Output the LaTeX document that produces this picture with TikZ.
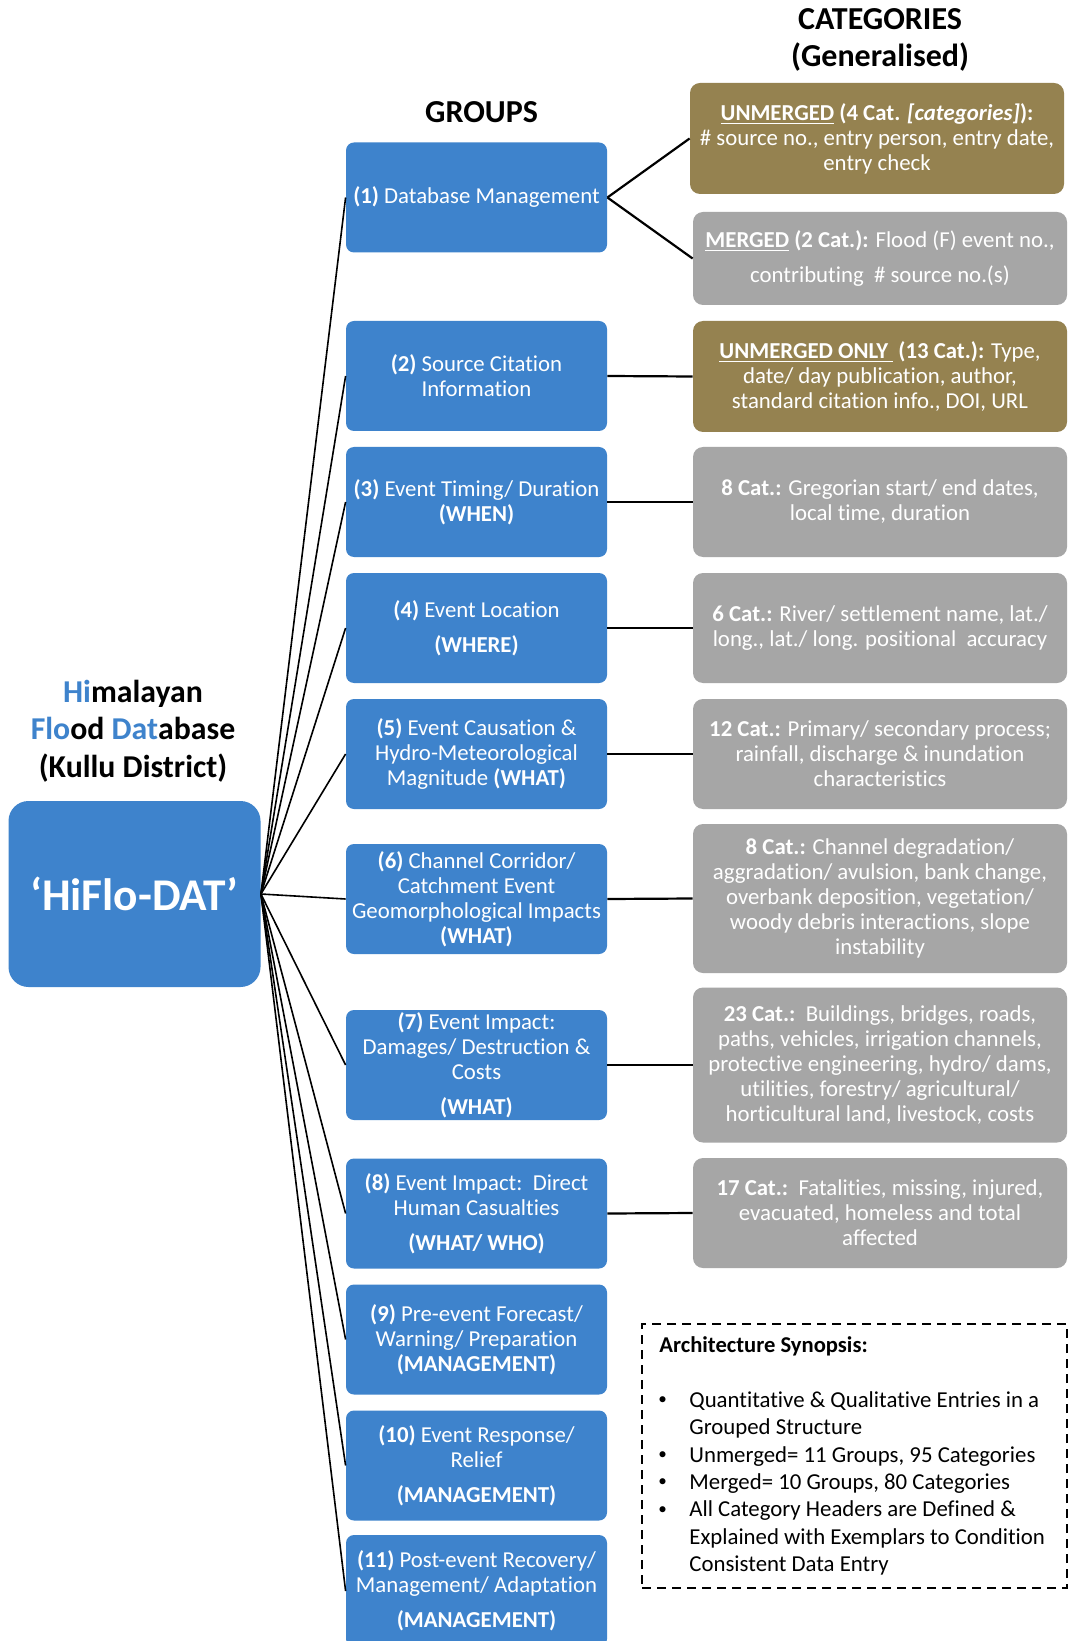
\documentclass[tikz,border=0pt]{standalone}
\usepackage{fontspec}
\setmainfont{Carlito}[Ligatures=NoCommon]
\definecolor{gblue}{RGB}{62,131,204}
\definecolor{catolive}{RGB}{149,130,80}
\definecolor{catgray}{RGB}{166,166,166}
\newcommand{\smallbul}{\raisebox{0.25ex}{\scalebox{0.75}{\textbullet}}}
\tikzset{
  grp/.style={fill=gblue, rounded corners=4pt, minimum width=130.5pt, minimum height=55pt,
    inner sep=0pt, text=white, align=center, font=\fontsize{11.4}{12.5}\selectfont},
  catbox/.style={rounded corners=5pt, minimum width=187pt, inner sep=0pt, text=white,
    align=center, font=\fontsize{11.4}{12.5}\selectfont},
  olivebox/.style={catbox, fill=catolive},
  graybox/.style={catbox, fill=catgray},
  hubline/.style={line width=0.8pt},
  link/.style={line width=1.1pt},
  header/.style={font=\bfseries\fontsize{16}{18.9}\selectfont, align=center, inner sep=0pt},
}
\begin{document}
\begin{tikzpicture}[x=0.5pt,y=-0.5pt]
\clip (0,0) rectangle (1068,1641);
\fill[white] (0,0) rectangle (1068,1641);

% headers
\node[header] (cathead) at (880,40) {CATEGORIES\\(Generalised)};
\node[header] (grphead) at (481.6,112) {GROUPS};
\node[header, font=\bfseries\fontsize{15.9}{18.75}\selectfont] (title) at (133,731)
  {\textcolor{gblue}{Hi}malayan\\ \textcolor{gblue}{Flo}od \textcolor{gblue}{Dat}abase\\ (Kullu District)};

% hub
\node[fill=gblue, rounded corners=10pt, minimum width=126pt, minimum height=93pt, inner sep=0pt,
  text=white, font=\bfseries\fontsize{22.7}{26}\selectfont] (hub) at (134.5,894) {‘HiFlo-DAT’};

% groups
\node[grp] (g1) at (476.5,197.5) {\textbf{(1)} Database Management};
\node[grp] (g2) at (476.5,376) {\textbf{(2)} Source Citation\\Information};
\node[grp] (g3) at (476.5,502) {\textbf{(3)} Event Timing/ Duration\\\textbf{(WHEN)}};
\node[grp] (g4) at (476.5,628) {\textbf{(4)} Event Location\\[5pt]\textbf{(WHERE)}};
\node[grp] (g5) at (476.5,754) {\textbf{(5)} Event Causation \&\\Hydro-Meteorological\\Magnitude \textbf{(WHAT)}};
\node[grp] (g6) at (476.5,899) {\textbf{(6)} Channel Corridor/\\Catchment Event\\Geomorphological Impacts\\\textbf{(WHAT)}};
\node[grp] (g7) at (476.5,1065) {\textbf{(7)} Event Impact:\\Damages/ Destruction \&\\Costs\\[5pt]\textbf{(WHAT)}};
\node[grp] (g8) at (476.5,1213.5) {\textbf{(8)} Event Impact:\ \ Direct\\Human Casualties\\[5pt]\textbf{(WHAT/ WHO)}};
\node[grp] (g9) at (476.5,1339.5) {\textbf{(9)} Pre-event Forecast/\\Warning/ Preparation\\\textbf{(MANAGEMENT)}};
\node[grp] (g10) at (476.5,1465.5) {\textbf{(10)} Event Response/\\Relief\\[5pt]\textbf{(MANAGEMENT)}};
\node[grp, minimum height=56pt] (g11) at (476.5,1591) {\textbf{(11)} Post-event Recovery/\\Management/ Adaptation\\[5pt]\textbf{(MANAGEMENT)}};

% categories
\node[olivebox, minimum height=55.5pt] (cA) at (877,138.5)
  {\textbf{\underline{UNMERGED} (4 Cat. \textit{[categories]}):}\\\# source no., entry person, entry date,\\entry check};
\node[graybox, minimum height=46.5pt] (cB) at (880,258.5)
  {\textbf{\underline{MERGED} (2 Cat.):} Flood (F) event no.,\\[5pt]contributing\ \ \# source no.(s)};
\node[olivebox, minimum height=55.5pt] (cC) at (880,376.5)
  {\textbf{\underline{UNMERGED ONLY\ } (13 Cat.):} Type,\\date/ day publication, author,\\standard citation info., DOI, URL};
\node[graybox, minimum height=55pt] (cD) at (880,502)
  {\textbf{8 Cat.:} Gregorian start/ end dates,\\local time, duration};
\node[graybox, minimum height=55pt] (cE) at (880,628)
  {\textbf{6 Cat.:} River/ settlement name, lat./\\long., lat./ long. positional\ \ accuracy};
\node[graybox, minimum height=55pt] (cF) at (880,754)
  {\textbf{12 Cat.:} Primary/ secondary process;\\rainfall, discharge \& inundation\\characteristics};
\node[graybox, minimum height=74.5pt] (cG) at (880,898.5)
  {\textbf{8 Cat.:} Channel degradation/\\aggradation/ avulsion, bank change,\\overbank deposition, vegetation/\\woody debris interactions, slope\\instability};
\node[graybox, minimum height=77.5pt] (cH) at (880,1065)
  {\textbf{23 Cat.:}\ \ Buildings, bridges, roads,\\paths, vehicles, irrigation channels,\\protective engineering, hydro/ dams,\\utilities, forestry/ agricultural/\\horticultural land, livestock, costs};
\node[graybox, minimum height=55pt] (cI) at (880,1213)
  {\textbf{17 Cat.:}\ \ Fatalities, missing, injured,\\evacuated, homeless and total\\affected};

% hub connectors
\foreach \i in {1,...,11} \draw[hubline] (hub.east) -- (g\i.west);

% group to category connectors
\draw[link] (g1.east) -- (cA.west);
\draw[link] (g1.east) -- (cB.west);
\draw[link] (g2.east) -- (cC.west);
\draw[link] (g3.east) -- (cD.west);
\draw[link] (g4.east) -- (cE.west);
\draw[link] (g5.east) -- (cF.west);
\draw[link] (g6.east) -- (cG.west);
\draw[link] (g7.east) -- (cH.west);
\draw[link] (g8.east) -- (cI.west);

% synopsis
\node[draw, line width=1pt, dash pattern=on 4.5pt off 3pt, anchor=north west,
  minimum width=212.5pt, minimum height=132pt, inner sep=0pt] (synbox) at (641,1323) {};
\node[anchor=west, inner sep=0pt, font=\bfseries\fontsize{11.3}{13.6}\selectfont] (synhead) at (659,1346) {Architecture Synopsis:};
\node[anchor=west, inner sep=0pt, font=\fontsize{11.4}{13.65}\selectfont] (synlist) at (658,1484)
  {\begin{tabular}{@{}p{15.5pt}@{}l@{}}
   \smallbul & Quantitative \& Qualitative Entries in a\\
             & Grouped Structure\\
   \smallbul & Unmerged= 11 Groups, 95 Categories\\
   \smallbul & Merged= 10 Groups, 80 Categories\\
   \smallbul & All Category Headers are Defined \&\\
             & Explained with Exemplars to Condition\\
             & Consistent Data Entry
   \end{tabular}};
\end{tikzpicture}
\end{document}
